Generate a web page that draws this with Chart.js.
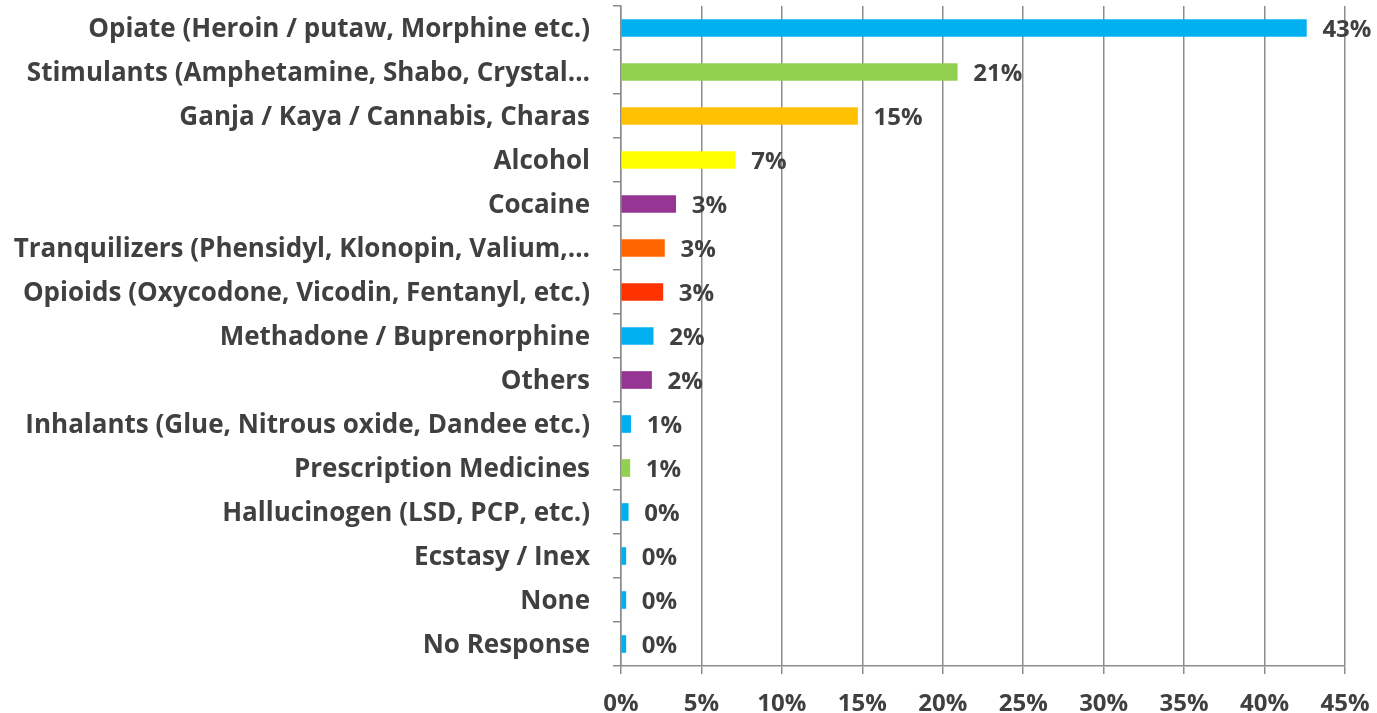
<!DOCTYPE html>
<html>
<head>
<meta charset="utf-8">
<script src="https://cdn.jsdelivr.net/npm/chart.js@4"></script>
<style>
  html, body { margin: 0; padding: 0; background: #fff; }
  #wrap { width: 1377px; height: 713px; }
</style>
</head>
<body>
<div id="wrap"><canvas id="drugs"></canvas></div>
<script>
const categories = [
  'Opiate (Heroin / putaw, Morphine etc.)',
  'Stimulants (Amphetamine, Shabo, Crystal\u2026',
  'Ganja / Kaya / Cannabis, Charas',
  'Alcohol',
  'Cocaine',
  'Tranquilizers (Phensidyl, Klonopin, Valium,\u2026',
  'Opioids (Oxycodone, Vicodin, Fentanyl, etc.)',
  'Methadone / Buprenorphine',
  'Others',
  'Inhalants (Glue, Nitrous oxide, Dandee etc.)',
  'Prescription Medicines',
  'Hallucinogen (LSD, PCP, etc.)',
  'Ecstasy / Inex',
  'None',
  'No Response'
];
const shares = [42.6, 20.9, 14.7, 7.1, 3.4, 2.7, 2.6, 2.0, 1.9, 0.6, 0.55, 0.45, 0.3, 0.3, 0.3];
const barColors = [
  '#00B0F0', '#92D050', '#FFC000', '#FFFF00', '#963594', '#FF6600', '#FF3300',
  '#00B0F0', '#963594', '#00B0F0', '#92D050', '#00B0F0', '#00B0F0', '#00B0F0', '#00B0F0'
];

const textColor = '#404040';
const lineColor = '#8c8c8c';
const fontFam = '"Open Sans", Lato, sans-serif';

// labels at the end of each bar
const barLabels = {
  id: 'barLabels',
  afterDatasetsDraw(chart) {
    const ctx = chart.ctx;
    const meta = chart.getDatasetMeta(0);
    ctx.save();
    ctx.font = 'bold 24px ' + fontFam;
    ctx.fillStyle = textColor;
    ctx.textAlign = 'left';
    ctx.textBaseline = 'middle';
    meta.data.forEach(function(bar, i) {
      ctx.fillText(Math.round(shares[i]) + '%', bar.x + 16, bar.y + 2);
    });
    ctx.restore();
  }
};

const ctx = document.getElementById('drugs').getContext('2d');
const chart = new Chart(ctx, {
  type: 'bar',
  data: {
    labels: categories,
    datasets: [{
      data: shares,
      backgroundColor: barColors,
      barThickness: 17,
      borderWidth: 0
    }]
  },
  options: {
    indexAxis: 'y',
    responsive: true,
    maintainAspectRatio: false,
    animation: false,
    layout: { padding: { top: 6, right: 32, left: 0, bottom: 0 } },
    plugins: {
      legend: { display: false },
      tooltip: { enabled: false }
    },
    scales: {
      x: {
        min: 0,
        max: 45,
        grid: { color: lineColor, lineWidth: 1.5, tickLength: 8 },
        border: { color: lineColor, width: 1.5 },
        ticks: {
          stepSize: 5,
          padding: 16,
          color: textColor,
          font: { family: fontFam, size: 24, weight: 'bold' },
          callback: function(v) { return v + '%'; }
        },
        afterFit: function(scale) {
          scale.height = 47;
          scale.paddingLeft = 0;
          scale.paddingRight = 0;
        }
      },
      y: {
        grid: { offset: true, drawOnChartArea: false, color: lineColor, lineWidth: 1.5, tickLength: 8 },
        border: { color: lineColor, width: 1.5 },
        ticks: {
          autoSkip: false,
          padding: 23,
          labelOffset: 2,
          color: textColor,
          font: { family: fontFam, size: 26, weight: 'bold' }
        },
        afterFit: function(scale) {
          scale.width = 621;
          scale.paddingTop = 0;
          scale.paddingBottom = 0;
        }
      }
    }
  },
  plugins: [barLabels]
});
</script>
</body>
</html>
